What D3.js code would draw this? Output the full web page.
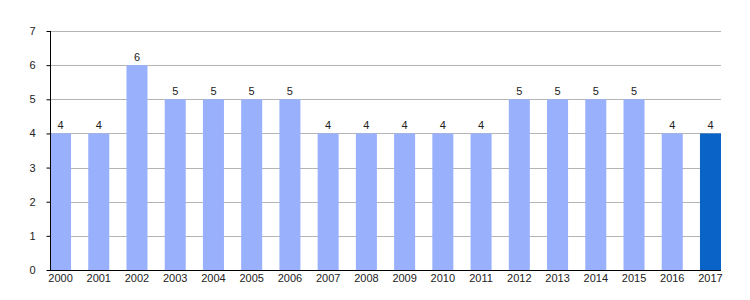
<!DOCTYPE html>
<html>
<head>
<meta charset="utf-8">
<script src="https://cdn.jsdelivr.net/npm/d3@7"></script>
<style>
  body { margin: 0; background: #fff; }
  text { font-family: "Liberation Sans", Arial, sans-serif; font-size: 11px; fill: #222; }
</style>
</head>
<body>
<div id="chart"></div>
<script>
var years = ["2000","2001","2002","2003","2004","2005","2006","2007","2008","2009",
             "2010","2011","2012","2013","2014","2015","2016","2017"];
var counts = [4,4,6,5,5,5,5,4,4,4,4,4,5,5,5,5,4,4];
var yTicks = [0,1,2,3,4,5,6,7];

var width = 750, height = 300;
var margin = {left: 50, right: 30, top: 31, bottom: 30};

var svg = d3.select("#chart").append("svg")
    .attr("width", width)
    .attr("height", height);

var x = d3.scaleBand()
    .domain(years)
    .range([margin.left, width - margin.right + 1])
    .paddingInner(0.45)
    .paddingOuter(0);

var y = d3.scaleLinear()
    .domain([0, 7])
    .range([height - margin.bottom, margin.top]);

// gridlines
svg.append("g")
    .selectAll("line")
    .data(yTicks.slice(1))
    .enter().append("line")
    .attr("x1", margin.left)
    .attr("x2", x.range()[1])
    .attr("y1", function (d) { return Math.round(y(d)) + 0.5; })
    .attr("y2", function (d) { return Math.round(y(d)) + 0.5; })
    .attr("stroke", "#b4b4b4")
    .attr("stroke-width", 1);

// bars
var data = years.map(function (yr, i) { return {year: yr, value: counts[i]}; });

svg.append("g")
    .selectAll("rect")
    .data(data)
    .enter().append("rect")
    .attr("x", function (d) { return x(d.year); })
    .attr("y", function (d) { return y(d.value); })
    .attr("width", x.bandwidth())
    .attr("height", function (d) { return y(0) - y(d.value); })
    .attr("fill", function (d, i) { return i === years.length - 1 ? "#0a64c8" : "#99b1fc"; });

// value labels
svg.append("g")
    .selectAll("text")
    .data(data)
    .enter().append("text")
    .attr("x", function (d) { return x(d.year) + x.bandwidth() / 2; })
    .attr("y", function (d) { return y(d.value) - 4; })
    .attr("text-anchor", "middle")
    .text(function (d) { return d.value; });

// y axis
var yAxis = svg.append("g")
    .attr("transform", "translate(" + (margin.left + 0.5) + ",0)")
    .call(d3.axisLeft(y).tickValues(yTicks).tickSize(4).tickPadding(11).tickFormat(d3.format("d")));
yAxis.select(".domain").attr("stroke", "#000").attr("d", "M0," + y(7) + "V" + (y(0) + 0.5));
yAxis.selectAll("text").style("font-size", "11px");

// x axis
var xAxis = svg.append("g")
    .attr("transform", "translate(0," + (Math.round(y(0)) + 0.5) + ")")
    .call(d3.axisBottom(x).tickSize(0).tickPadding(4));
xAxis.select(".domain").attr("stroke", "#000").attr("d", "M" + margin.left + ",0H" + x.range()[1]);
xAxis.selectAll("text").style("font-size", "11px");
</script>
</body>
</html>
